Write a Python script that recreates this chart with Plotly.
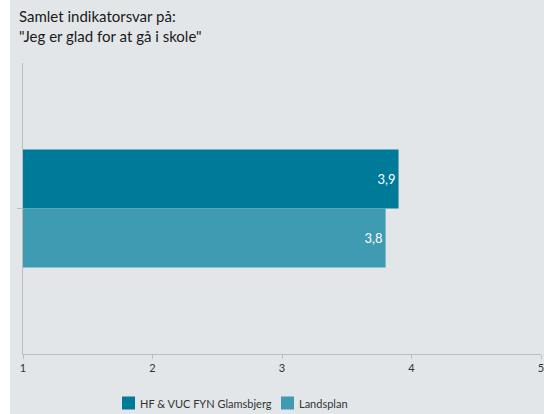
import plotly.graph_objects as go

categories = ["Samlet"]
series_names = ["HF & VUC FYN Glamsbjerg", "Landsplan"]
hf_values = [3.9]
land_values = [3.8]
colors = ["#007a99", "#3f9bb1"]
x_ticks = [1, 2, 3, 4, 5]

W, H = 544, 414
L, R, T, B = 23, 3, 63, 60
pw = W - L - R
ph = H - T - B
FONT = "Lato"

fig = go.Figure()
for name, vals, col in zip(series_names, [hf_values, land_values], colors):
    fig.add_trace(go.Bar(
        y=categories, x=vals, orientation="h", name=name,
        marker=dict(color=col, line=dict(width=0)),
        text=[f"{v:.1f}".replace(".", ",") for v in vals],
        textposition="inside", insidetextanchor="end",
        textfont=dict(color="white", size=13, family=FONT),
        hoverinfo="skip", showlegend=False,
    ))

# custom compact legend (square + label)
shapes = [dict(type="rect", xref="paper", yref="paper",
               x0=-L / pw, x1=(10 - L) / pw, y0=-B / ph, y1=1 + T / ph,
               fillcolor="white", line=dict(width=0), layer="below")]
annotations = [dict(
    text='Samlet indikatorsvar på:<br>"Jeg er glad for at gå i skole"',
    xref="paper", yref="paper", x=(17 - L) / pw, y=1 + (T - 5) / ph,
    xanchor="left", yanchor="top", align="left", showarrow=False,
    font=dict(size=15, color="#1a1a1a", family=FONT))]
leg_x = [122, 281]
leg_y = 403
for name, col, lx in zip(series_names, colors, leg_x):
    shapes.append(dict(type="rect", xref="paper", yref="paper",
                       x0=(lx - L) / pw, x1=(lx + 13 - L) / pw,
                       y0=(T + ph - (leg_y + 6.5)) / ph, y1=(T + ph - (leg_y - 6.5)) / ph,
                       fillcolor=col, line=dict(width=0)))
    annotations.append(dict(text=name, xref="paper", yref="paper",
                            x=(lx + 16 - L) / pw, y=(T + ph - leg_y) / ph,
                            xanchor="left", yanchor="middle", showarrow=False,
                            font=dict(size=11, color="#333333", family=FONT)))

fig.update_layout(
    width=W, height=H,
    margin=dict(l=L, r=R, t=T, b=B, autoexpand=False),
    paper_bgcolor="#e2e6e9", plot_bgcolor="#e2e6e9",
    barmode="group", bargap=0.595, bargroupgap=0,
    font=dict(family=FONT, color="#333333"),
    showlegend=False,
    xaxis=dict(range=[1, 5], tickvals=x_ticks, ticktext=[str(t) for t in x_ticks],
               showgrid=False, zeroline=False, showline=True, linecolor="#bdbdbd",
               linewidth=1, ticks="outside", ticklen=4, tickcolor="#bdbdbd",
               tickfont=dict(size=11, color="#333333"), fixedrange=True,
               automargin=False, ticklabeloverflow="allow"),
    yaxis=dict(autorange="reversed", showgrid=False, zeroline=False, showline=True,
               linecolor="#bdbdbd", linewidth=1, ticks="outside", ticklen=5,
               tickcolor="#bdbdbd", showticklabels=False, automargin=False),
    annotations=annotations,
    shapes=shapes,
)

fig.write_html("out.html", config={"displayModeBar": False},
               post_script="document.body.style.margin='0';")
